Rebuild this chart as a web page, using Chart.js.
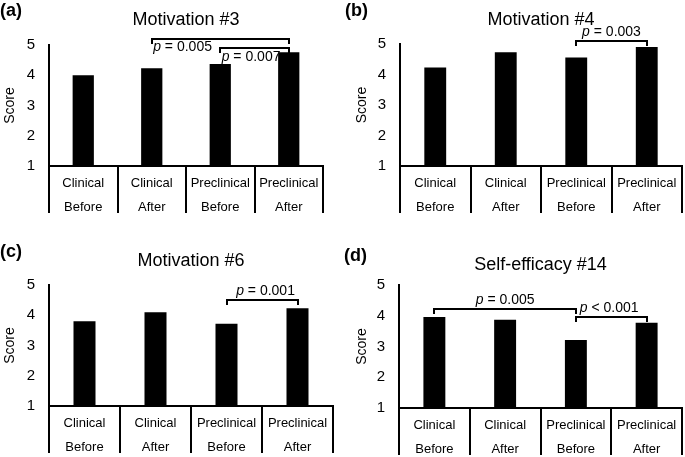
<!DOCTYPE html>
<html>
<head>
<meta charset="utf-8">
<script src="https://cdn.jsdelivr.net/npm/chart.js@4.4.0/dist/chart.umd.min.js"></script>
<style>
  body { margin: 0; background: #fff; width: 685px; height: 457px; position: relative; overflow: hidden;
         font-family: 'Liberation Sans', Arial, sans-serif; }
  .panel { position: absolute; }
  .tag { position: absolute; font-weight: bold; font-size: 18px; line-height: 20px; color: #000; }
</style>
</head>
<body>
<div class="panel" style="left:0;top:0"><canvas id="chartA" width="340" height="228"></canvas></div>
<div class="panel" style="left:340px;top:0"><canvas id="chartB" width="345" height="228"></canvas></div>
<div class="panel" style="left:0;top:228px"><canvas id="chartC" width="340" height="229"></canvas></div>
<div class="panel" style="left:340px;top:228px"><canvas id="chartD" width="345" height="229"></canvas></div>
<div class="tag" style="left:0;top:0">(a)</div>
<div class="tag" style="left:345px;top:0">(b)</div>
<div class="tag" style="left:0;top:241px">(c)</div>
<div class="tag" style="left:344px;top:245px">(d)</div>

<script>
// categories (two-line labels) and y ticks
const categories = [['Clinical', 'Before'], ['Clinical', 'After'], ['Preclinical', 'Before'], ['Preclinical', 'After']];
const yTicks = [1, 2, 3, 4, 5];

// mean scores
const motivation3 = [4.00, 4.23, 4.37, 4.76];
const motivation4 = [4.23, 4.73, 4.56, 4.90];
const motivation6 = [3.80, 4.10, 3.72, 4.23];
const selfEfficacy14 = [3.96, 3.87, 3.21, 3.77];

// significance brackets: bar index from/to, bracket level, p text, label anchor (index, score)
const sig3 = [
    { from: 1, to: 3, at: 5.19, op: '=', p: '0.005', lx: 1.45, ly: 4.92 },
    { from: 2, to: 3, at: 4.90, op: '=', p: '0.007', lx: 2.45, ly: 4.59 }
];
const sig4 = [
    { from: 2, to: 3, at: 5.09, op: '=', p: '0.003', lx: 2.5, ly: 5.39 }
];
const sig6 = [
    { from: 2, to: 3, at: 4.50, op: '=', p: '0.001', lx: 2.55, ly: 4.80 }
];
const sig14 = [
    { from: 0, to: 2, at: 4.22, op: '=', p: '0.005', lx: 1.0, ly: 4.52 },
    { from: 2, to: 3, at: 3.96, op: '<', p: '0.001', lx: 2.47, ly: 4.25 }
];

const FONT = "'Liberation Sans', Arial, sans-serif";

// draws the p-value brackets using the chart's own scales
const bracketPlugin = {
    id: 'brackets',
    afterDatasetsDraw(chart, args, opts) {
        const { ctx, scales: { x, y } } = chart;
        (opts.items || []).forEach(b => {
            const x1 = Math.round(x.getPixelForValue(b.from));
            const x2 = Math.round(x.getPixelForValue(b.to));
            const yy = Math.round(y.getPixelForValue(b.at));
            ctx.save();
            ctx.strokeStyle = '#000';
            ctx.lineWidth = 2;
            ctx.lineCap = 'square';
            ctx.beginPath();
            ctx.moveTo(x1, yy + 4);
            ctx.lineTo(x1, yy);
            ctx.lineTo(x2, yy);
            ctx.lineTo(x2, yy + 4);
            ctx.stroke();

            // label: italic p + normal rest
            const rest = ' ' + b.op + ' ' + b.p;
            ctx.font = 'italic 14px ' + FONT;
            const wp = ctx.measureText('p').width;
            ctx.font = '14px ' + FONT;
            const wr = ctx.measureText(rest).width;
            const cx = x.getPixelForValue(b.lx);
            const cy = y.getPixelForValue(b.ly);
            const left = cx - (wp + wr) / 2;
            ctx.fillStyle = '#000';
            ctx.textBaseline = 'middle';
            ctx.textAlign = 'left';
            ctx.font = 'italic 14px ' + FONT;
            ctx.fillText('p', left, cy);
            ctx.font = '14px ' + FONT;
            ctx.fillText(rest, left + wp, cy);
            ctx.restore();
        });
    }
};

function makeChart(id, title, values, sig, L) {
    const ctx = document.getElementById(id);
    const lh = 18 * 1.2;
    return new Chart(ctx, {
        type: 'bar',
        data: {
            labels: categories,
            datasets: [{
                data: values,
                backgroundColor: '#000',
                borderWidth: 0,
                barPercentage: 0.31,
                categoryPercentage: 1
            }]
        },
        plugins: [bracketPlugin],
        options: {
            responsive: false,
            animation: false,
            devicePixelRatio: 1,
            layout: { padding: { left: 0, top: 0, bottom: 0, right: L.w - L.right } },
            plugins: {
                legend: { display: false },
                tooltip: { enabled: false },
                title: {
                    display: true,
                    text: title,
                    fullSize: false,
                    color: '#000',
                    font: { family: FONT, size: 18, weight: 'normal', lineHeight: 1.2 },
                    padding: { top: L.titleY - lh / 2, bottom: L.top - L.titleY - lh / 2 }
                },
                brackets: { items: sig }
            },
            scales: {
                x: {
                    grid: { offset: true, drawOnChartArea: false, color: '#000', lineWidth: 2, tickLength: 47 },
                    border: { color: '#000', width: 2 },
                    ticks: { color: '#000', font: { family: FONT, size: 13, lineHeight: 24 / 13 }, padding: -42, maxRotation: 0, autoSkip: false },
                    afterFit: s => { s.height = L.h - L.bottom; }
                },
                y: {
                    min: 1,
                    max: 5,
                    afterBuildTicks: s => { s.ticks = yTicks.map(v => ({ value: v })); },
                    grid: { display: false, drawTicks: false },
                    border: { color: '#000', width: 2 },
                    ticks: { color: '#000', font: { family: FONT, size: 15 }, padding: 14 },
                    title: {
                        display: true,
                        text: 'Score',
                        color: '#000',
                        font: { family: FONT, size: 14, lineHeight: 1.2 },
                        padding: { top: L.scoreX - 8.4, bottom: 0 }
                    },
                    afterFit: s => { s.width = L.left; }
                }
            }
        }
    });
}

makeChart('chartA', 'Motivation #3', motivation3, sig3,
    { w: 340, h: 228, left: 49, right: 323, top: 45, bottom: 166, titleY: 20, scoreX: 10 });
makeChart('chartB', 'Motivation #4', motivation4, sig4,
    { w: 345, h: 228, left: 60, right: 342, top: 44, bottom: 166, titleY: 20, scoreX: 22 });
makeChart('chartC', 'Motivation #6', motivation6, sig6,
    { w: 340, h: 229, left: 49, right: 333, top: 57, bottom: 178, titleY: 33, scoreX: 10 });
makeChart('chartD', 'Self-efficacy #14', selfEfficacy14, sig14,
    { w: 345, h: 229, left: 59, right: 342, top: 57, bottom: 180, titleY: 37, scoreX: 22 });
</script>
</body>
</html>
